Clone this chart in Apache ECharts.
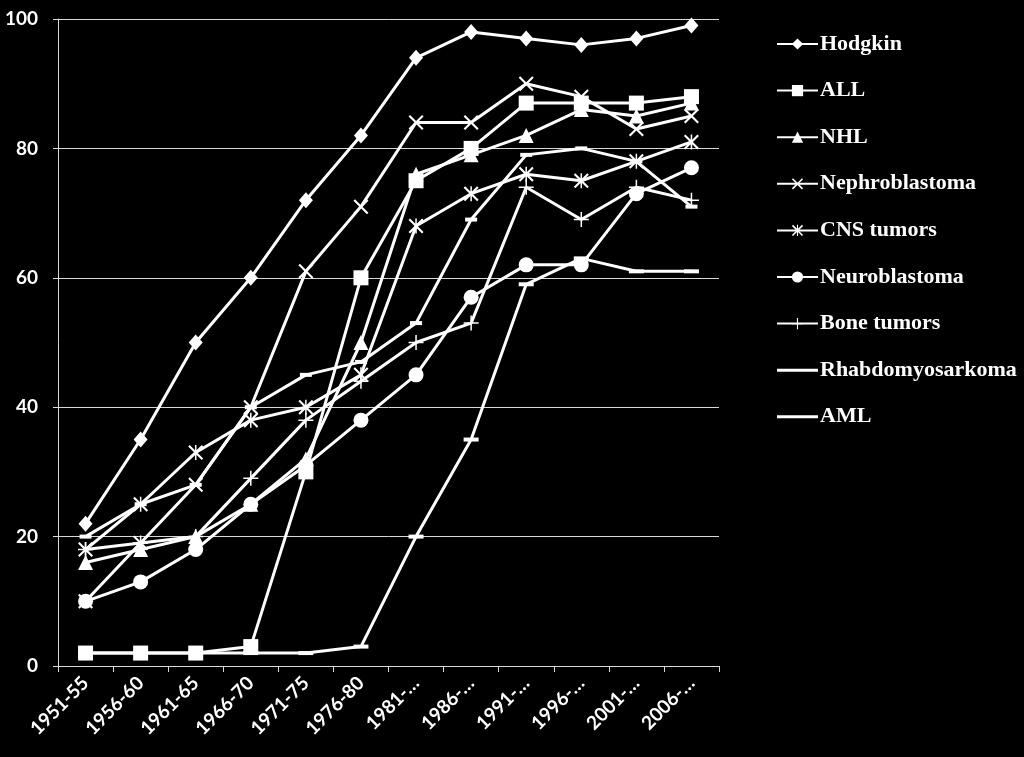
<!DOCTYPE html>
<html>
<head>
<meta charset="utf-8">
<style>
html,body{margin:0;padding:0;background:#000;}
#chart{width:1024px;height:757px;}
</style>
<script src="https://cdn.jsdelivr.net/npm/echarts@6/dist/echarts.min.js"></script>
</head>
<body>
<div id="chart"></div>
<script>
const categories = ['1951-55','1956-60','1961-65','1966-70','1971-75','1976-80','1981-…','1986-…','1991-…','1996-…','2001-…','2006-…'];
const yTicks = [0, 20, 40, 60, 80, 100];

const hodgkin        = [22,35,50,60,72,82,94,98,97,96,97,99];
const all            = [2,2,2,3,30,60,75,80,87,87,87,88];
const nhl            = [16,18,20,25,32,50,76,79,82,86,85,87];
const nephroblastoma = [10,19,28,40,61,71,84,84,90,88,83,85];
const cnsTumors      = [18,25,33,38,40,45,68,73,76,75,78,81];
const neuroblastoma  = [10,13,18,25,31,38,45,57,62,62,73,77];
const boneTumors     = [18,19,20,29,38,44,50,53,74,69,74,72];
const rhabdo         = [20,25,28,40,45,47,53,69,79,80,78,71];
const aml            = [2,2,2,2,2,3,20,35,59,63,61,61];

const seriesNames = ['Hodgkin','ALL','NHL','Nephroblastoma','CNS tumors','Neuroblastoma','Bone tumors','Rhabdomyosarkoma','AML'];
const seriesData = [hodgkin, all, nhl, nephroblastoma, cnsTumors, neuroblastoma, boneTumors, rhabdo, aml];

const X_PATH = 'path://M2,0 L10,8 L18,0 L20,2 L12,10 L20,18 L18,20 L10,12 L2,20 L0,18 L8,10 L0,2 Z';
const STAR_PATH = 'path://M2,0 L10,8 L18,0 L20,2 L12,10 L20,18 L18,20 L10,12 L2,20 L0,18 L8,10 L0,2 Z M9,0 L11,0 L11,20 L9,20 Z';
const PLUS_PATH = 'path://M9,0 L11,0 L11,9 L20,9 L20,11 L11,11 L11,20 L9,20 L9,11 L0,11 L0,9 L9,9 Z';
const LINE_ICON = 'path://M0,0 L0.01,0 L0,0.01 Z M0,5.5 L41,5.5 L41,8.5 L0,8.5 Z M41,14 L40.99,14 L41,13.99 Z';

const markers = [
  {symbol:'diamond', size:[14,16]},
  {symbol:'rect', size:15},
  {symbol:'triangle', size:15},
  {symbol:X_PATH, size:15},
  {symbol:STAR_PATH, size:15},
  {symbol:'circle', size:15},
  {symbol:PLUS_PATH, size:15},
  {symbol:'rect', size:[12,4]},
  {symbol:'rect', size:[15,4]}
];

const series = seriesNames.map((name, i) => ({
  name: name,
  type: 'line',
  data: seriesData[i],
  symbol: markers[i].symbol,
  symbolSize: markers[i].size,
  showAllSymbol: true,
  lineStyle: {color:'#fff', width:3},
  itemStyle: {color:'#fff', borderColor:'#fff', borderWidth:0},
  emphasis: {disabled:true},
  animation: false
}));

const legendData = seriesNames.map((name, i) => (i >= 7 ? {name: name, icon: LINE_ICON} : {name: name}));

const chart = echarts.init(document.getElementById('chart'));
chart.setOption({
  backgroundColor: '#000',
  animation: false,
  grid: {left:58, right:305, top:19, bottom:91, containLabel:false},
  legend: {
    orient: 'vertical',
    left: 776,
    top: 33,
    padding: 0,
    itemWidth: 41,
    itemHeight: 14,
    itemGap: 24.6,
    data: legendData,
    textStyle: {color:'#fff', fontFamily:'Liberation Serif', fontWeight:'bold', fontSize:22, lineHeight:22, padding:[0,0,0,-3]}
  },
  xAxis: {
    type: 'category',
    data: categories,
    boundaryGap: true,
    axisLine: {lineStyle:{color:'#d9d9d9', width:1}},
    axisTick: {show:true, length:6, lineStyle:{color:'#d9d9d9'}},
    axisLabel: {interval:0, rotate:45, margin:14, color:'#fff', fontFamily:'Lato', fontWeight:'bold', fontSize:19}
  },
  yAxis: {
    type: 'value',
    min: yTicks[0],
    max: yTicks[yTicks.length-1],
    interval: yTicks[1]-yTicks[0],
    axisLine: {show:true, lineStyle:{color:'#d9d9d9', width:1}},
    axisTick: {show:true, length:5, lineStyle:{color:'#d9d9d9'}},
    splitLine: {show:true, lineStyle:{color:'#d9d9d9', width:1}},
    axisLabel: {margin:20, color:'#fff', fontFamily:'Lato', fontWeight:'bold', fontSize:19}
  },
  series: series
});
</script>
</body>
</html>
